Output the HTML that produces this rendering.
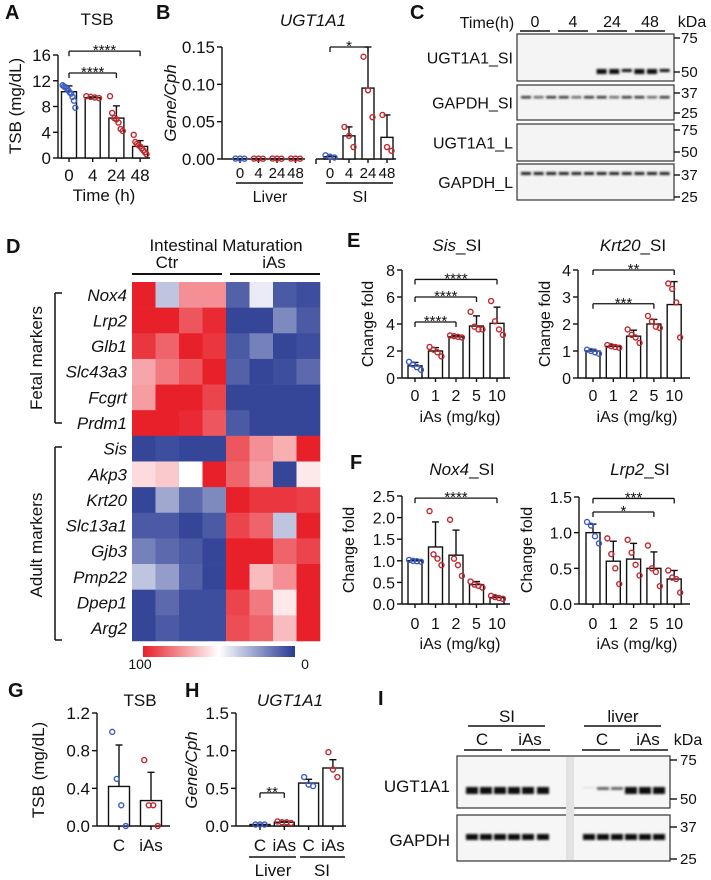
<!DOCTYPE html>
<html><head><meta charset="utf-8"><style>
body{margin:0;background:#fff}
svg{display:block;font-family:"Liberation Sans",sans-serif}
</style></head><body>
<svg id="fig" width="711" height="880" viewBox="0 0 711 880" xmlns="http://www.w3.org/2000/svg">
<defs><filter id="blur" x="-20%" y="-100%" width="140%" height="300%"><feGaussianBlur stdDeviation="1"/></filter>
<linearGradient id="cbar" x1="0" x2="1" y1="0" y2="0"><stop offset="0" stop-color="#e8202a"/><stop offset="0.5" stop-color="#ffffff"/><stop offset="1" stop-color="#283a93"/></linearGradient></defs>
</svg>
<script>
// ---------- data ----------
const aCats=["0","4","24","48"];
const aMeans=[10.3,9.35,6.2,1.8];
const aSds=[0.9,0.15,1.9,0.9];
const aPts=[[11.3,11.1,11,10.8,10.5,10.2,10,9.5,8.9,7.8],[9.6,9.5,9.4,9.3],[9.6,7,6.2,6,5.5,4.5,4.2],[3.6,2.5,2.2,2,1.8,1.5,1.2,0.9,0.6]];
const aTicks=[0,4,8,12,16];
const bCats=["0","4","24","48","0","4","24","48"];
const bMeans=[0.0005,0.0005,0.0005,0.0005,0.003,0.031,0.095,0.029];
const bSds=[0,0,0,0,0.001,0.012,0.055,0.03];
const bPts=[[0.0006,0.0005,0.0004],[0.0006,0.0005,0.0004],[0.0006,0.0005,0.0004],[0.0006,0.0005,0.0004],[0.005,0.003,0.002],[0.043,0.031,0.016],[0.137,0.092,0.056],[0.059,0.016,0.011]];
const bTicks=[0,0.05,0.10,0.15];
const doseCats=["0","1","2","5","10"];
const sisMeans=[0.9,2.0,3.05,3.85,4.05];
const sisSds=[0.25,0.25,0.1,0.75,1.2];
const sisPts=[[1.2,1.0,0.8,0.6],[2.3,2.1,1.9,1.6],[3.15,3.1,3.05,3.0],[4.9,3.8,3.6,3.6],[5.7,4.2,3.6,3.2]];
const sisTicks=[0,2,4,6,8];
const krtMeans=[1.0,1.17,1.55,2.0,2.72];
const krtSds=[0.06,0.06,0.22,0.17,0.85];
const krtPts=[[1.05,1.0,0.95,0.9],[1.22,1.18,1.15,1.12],[1.8,1.6,1.5,1.3],[2.3,2.1,1.9,1.85],[3.5,3.3,2.8,1.5]];
const krtTicks=[0,1,2,3,4];
const noxMeans=[1.0,1.32,1.13,0.45,0.15];
const noxSds=[0.02,0.58,0.58,0.07,0.04];
const noxPts=[[1.02,1.0,0.99,0.98],[2.15,1.15,1.05,0.9],[1.95,1.05,0.9,0.65],[0.52,0.45,0.42,0.38],[0.19,0.16,0.14,0.12]];
const noxTicks=[0,0.5,1.0,1.5,2.0,2.5];
const lrpMeans=[1.0,0.6,0.63,0.5,0.35];
const lrpSds=[0.12,0.28,0.22,0.23,0.12];
const lrpPts=[[1.15,1.1,0.95,0.85],[0.92,0.7,0.5,0.28],[0.9,0.72,0.55,0.4],[0.82,0.5,0.45,0.25],[0.47,0.37,0.35,0.16]];
const lrpTicks=[0,0.5,1.0,1.5];
const gCats=["C","iAs"];
const gMeans=[0.42,0.27];
const gSds=[0.44,0.3];
const gPts=[[1.0,0.5,0.22,0.0],[0.7,0.22,0.22,0.0]];
const gTicks=[0,0.4,0.8,1.2];
const hCats=["C","iAs","C","iAs"];
const hMeans=[0.02,0.05,0.57,0.77];
const hSds=[0.003,0.01,0.05,0.11];
const hPts=[[0.02,0.02,0.02],[0.06,0.05,0.05,0.04],[0.65,0.55,0.53],[0.98,0.75,0.65]];
const hTicks=[0,0.5,1.0,1.5];
const hmGenes=["Nox4","Lrp2","Glb1","Slc43a3","Fcgrt","Prdm1","Sis","Akp3","Krt20","Slc13a1","Gjb3","Pmp22","Dpep1","Arg2"];
const hmValues=[
[100,35,75,75,10,45,8,5],[100,100,88,98,3,3,20,8],[95,85,100,95,8,18,3,5],[70,80,88,100,10,3,5,12],
[72,100,100,92,3,3,3,3],[100,100,98,88,8,3,3,3],[3,5,3,3,88,75,68,100],[58,62,50,100,85,72,3,55],
[3,28,12,20,100,95,95,93],[8,8,3,8,92,85,35,100],[18,12,8,3,100,100,85,92],[35,25,10,3,100,65,75,100],
[3,12,5,5,92,80,55,100],[3,8,5,5,90,85,65,100]];

// ---------- helpers ----------
const NS="http://www.w3.org/2000/svg";
const svg=document.getElementById('fig');
function el(tag,attrs,parent,text){const e=document.createElementNS(NS,tag);for(const k in attrs)e.setAttribute(k,attrs[k]);if(text!==undefined)e.textContent=text;(parent||svg).appendChild(e);return e;}
function txt(x,y,s,opt,parent){opt=opt||{};const t=el('text',{x:x,y:y,'font-size':opt.fs||14,'text-anchor':opt.anchor||'middle','font-style':opt.it?'italic':'normal','font-weight':opt.bold?'bold':'normal',fill:'#111'},parent,s);if(opt.rot)t.setAttribute('transform','rotate(-90 '+x+' '+y+')');return t;}
function line(x1,y1,x2,y2,parent,w){return el('line',{x1:x1,y1:y1,x2:x2,y2:y2,stroke:'#111','stroke-width':w||1.4},parent);}
const BLUE='#3b5cc4',RED='#c1272d';

function barChart(name,c,cats,means,sds,pts,ticks){
  const g=el('g',{},svg);
  
  
  const y=v=>c.yBot-v/c.max*(c.yBot-c.yTop);
  const ax=line(c.ax,c.yTop,c.ax,c.yBot,g);
  
  if(c.breakAt){line(c.ax,c.yBot,c.breakAt[0],c.yBot,g);line(c.breakAt[1],c.yBot,c.axEnd,c.yBot,g);line(c.breakAt[1],c.yBot,c.breakAt[1],c.yBot+5,g);}
  else line(c.ax,c.yBot,c.axEnd,c.yBot,g);
  ticks.forEach(t=>{line(c.ax-5,y(t),c.ax,y(t),g);
    const tl=txt(c.ax-7,y(t)+6,t.toFixed(c.dec||0),{fs:c.tfs||17,anchor:'end'},g);
    
    });
  cats.forEach((cat,i)=>{
    const cx=c.xs(i),m=means[i],s=sds[i];
    line(cx,c.yBot,cx,c.yBot+4,g);
    const b=el('rect',{x:cx-c.bw/2,y:y(m),width:c.bw,height:c.yBot-y(m),fill:'#fff',stroke:'#111','stroke-width':1.4},g);
    
    
    if(s>0){line(cx,y(m),cx,y(m+s),g);line(cx-3.5,y(m+s),cx+3.5,y(m+s),g);}
    const p=pts[i],n=p.length,step=n>1?Math.min(4.5,c.bw*0.85/(n-1)):0;
    const col=c.colors(i);
    p.forEach((v,k)=>{const d=el('circle',{cx:cx+(k-(n-1)/2)*step,cy:y(v),r:2.5,fill:'none',stroke:col,'stroke-width':1.4},g);
      
      });
    const xl=txt(cx,c.xlY,cat,{fs:c.xfs||17},g);
    
    
  });
  (c.sig||[]).forEach(s=>{const yy=y(s[2]),x1=c.xs(s[0]),x2=c.xs(s[1]);
    line(x1,yy,x2,yy,g,1.3);line(x1,yy,x1,yy+5,g,1.3);line(x2,yy,x2,yy+5,g,1.3);
    const st=txt((x1+x2)/2,yy+4,s[3],{fs:15},g);
    
    });
  return g;
}
function label(x,y,s,name,opt){const t=txt(x,y,s,opt);return t;}

// ---------- panel letters ----------
[["A",5,19],["B",156,19],["C",410,19],["D",6,253],["E",347,247],["F",350,469],["G",8,697],["H",185,697],["I",378,705]].forEach(p=>{
  const t=txt(p[1],p[2],p[0],{fs:20,bold:true,anchor:'start'});
  
  });

// ---------- A ----------
barChart('panel-a-tsb',{ax:58,axEnd:150,yTop:55,yBot:158,max:16,bw:15,xlY:181,xs:i=>69+i*23.7,colors:i=>i==0?BLUE:RED,
  sig:[[0,3,16.6,"****"],[0,2,13.2,"****"]]},aCats,aMeans,aSds,aPts,aTicks);
label(97,25,"TSB","panel-a-title",{fs:17});
label(104,201,"Time (h)","panel-a-x-title",{fs:17});
label(21,106,"TSB (mg/dL)","panel-a-y-title",{fs:17,rot:true});

// ---------- B ----------
barChart('panel-b-ugt1a1',{ax:222,axEnd:396,breakAt:[305,316],yTop:47,yBot:159,max:0.15,dec:2,bw:12,xlY:178,xfs:15,
  xs:i=>i<4?240+i*18.5:330+(i-4)*19,colors:i=>i%4==0?BLUE:RED,sig:[[4,6,0.15,"*"]]},bCats,bMeans,bSds,bPts,bTicks);
label(313,26,"UGT1A1","panel-b-title",{fs:17,it:true});
label(176,103,"Gene/Cph","panel-b-y-title",{fs:17,it:true,rot:true});
line(236,183,303,183);line(326,183,393,183);
label(270,202,"Liver","group-label-liver",{fs:16});
label(360,202,"SI","group-label-si",{fs:16});

// ---------- C (western blot) ----------
(function(){
  label(487,28,"Time(h)","blot-c-time-label",{fs:16});
  [["0",535,520,550],["4",573,558,588],["24",612,597,627],["48",650,635,665]].forEach(g=>{label(g[1],27,g[0],"blot-c-time-group",{fs:16});line(g[2],31,g[3],31,null,1.6);});
  label(692,27,"kDa","blot-c-kda",{fs:16});
  const boxes=[[34,81,"UGT1A1_SI",[["75",38],["50",72]]],[85,120,"GAPDH_SI",[["37",93],["25",113]]],[124,161,"UGT1A1_L",[["75",130],["50",152]]],[164,200,"GAPDH_L",[["37",175],["25",197]]]];
  boxes.forEach((b,bi)=>{
    const r=el('rect',{x:517,y:b[0],width:157,height:b[1]-b[0],fill:'#f4f4f4',stroke:'#333','stroke-width':1.2});
    
    
    label(513,(b[0]+b[1])/2+6,b[2],"blot-c-row-label",{fs:16,anchor:'end'});
    b[3].forEach(m=>{line(674,m[1],680,m[1]);label(681,m[1]+5,m[0],"blot-c-marker",{fs:15,anchor:'start'});});
  });
  for(let i=0;i<12;i++){const x=521+i*12.6;
    if(i>=6){const b=el('rect',{x:x,y:69,width:10,height:i%3==2?3:5,fill:'#111',filter:'url(#blur)'});}
    const b2=el('rect',{x:x,y:96,width:10,height:2.5,fill:i%3==1?'#666':'#333',filter:'url(#blur)'});
    const b3=el('rect',{x:x,y:172,width:10,height:3,fill:'#222',filter:'url(#blur)'});
  }
})();

// ---------- D heatmap ----------
(function(){
  function col(v){const w=[255,255,255];let t,c;
    if(v>=50){t=(v-50)/50;c=[232,32,42];}else{t=(50-v)/50;c=[40,58,147];}
    return 'rgb('+w.map((a,i)=>Math.round(a+(c[i]-a)*t)).join(',')+')';}
  const x0=132,cw=23.5,y0=282,rh=25.64;
  label(226,251,"Intestinal Maturation","heatmap-title",{fs:17});
  label(167,268,"Ctr","heatmap-group-ctr",{fs:17});label(274,268,"iAs","heatmap-group-ias",{fs:17});
  line(132,274,222,274,null,2);line(230,274,320,274,null,2);
  hmValues.forEach((row,r)=>{
    row.forEach((v,k)=>{const c=el('rect',{x:x0+k*cw,y:y0+r*rh,width:cw+0.3,height:rh+0.3,fill:col(v)});
      
      });
    label(127,y0+r*rh+rh/2+6,hmGenes[r],"heatmap-gene-label",{fs:17,it:true,anchor:'end'});
  });
  [[293,423,"Fetal markers",358],[447,640,"Adult markers",545]].forEach(b=>{
    line(55,b[0],55,b[1],null,1.5);line(55,b[0],62,b[0],null,1.5);line(55,b[1],62,b[1],null,1.5);
    label(42,b[3],b[2],"heatmap-bracket-label",{fs:17,rot:true});});
  const cb=el('rect',{x:143,y:646,width:152,height:11,fill:'url(#cbar)'});
  
  label(140,669,"100","colorbar-max",{fs:14});label(305,669,"0","colorbar-min",{fs:14});
})();

// ---------- E ----------
const doseX1=i=>415+i*20.5, doseX2=i=>593+i*20.3;
barChart('panel-e-sis',{ax:402,axEnd:510,yTop:270,yBot:378,max:8,bw:14,tfs:16,xfs:16,xlY:401,xs:doseX1,colors:i=>i==0?BLUE:RED,
  sig:[[0,4,7.3,"****"],[0,3,6.0,"****"],[0,2,4.15,"****"]]},doseCats,sisMeans,sisSds,sisPts,sisTicks);
barChart('panel-e-krt20',{ax:578,axEnd:690,yTop:270,yBot:378,max:4,bw:14,tfs:16,xfs:16,xlY:401,xs:doseX2,colors:i=>i==0?BLUE:RED,
  sig:[[0,4,4.0,"**"],[0,3,2.75,"***"]]},doseCats,krtMeans,krtSds,krtPts,krtTicks);
(function(){const t=txt(457,251,"",{fs:17});
  el('tspan',{'font-style':'italic'},t,"Sis");el('tspan',{},t,"_SI");
  const t2=txt(633,251,"",{fs:17});
  el('tspan',{'font-style':'italic'},t2,"Krt20");el('tspan',{},t2,"_SI");})();
label(460,422,"iAs (mg/kg)","panel-e-sis-x-title",{fs:16});
label(637,422,"iAs (mg/kg)","panel-e-krt20-x-title",{fs:16});
label(373,324,"Change fold","panel-e-sis-y-title",{fs:16,rot:true});
label(550,324,"Change fold","panel-e-krt20-y-title",{fs:16,rot:true});

// ---------- F ----------
barChart('panel-f-nox4',{ax:402,axEnd:510,yTop:496,yBot:604,max:2.5,dec:1,bw:14,tfs:16,xfs:16,xlY:629,xs:doseX1,colors:i=>i==0?BLUE:RED,
  sig:[[0,4,2.45,"****"]]},doseCats,noxMeans,noxSds,noxPts,noxTicks);
barChart('panel-f-lrp2',{ax:579,axEnd:690,yTop:497,yBot:604,max:1.5,dec:1,bw:14,tfs:16,xfs:16,xlY:629,xs:doseX2,colors:i=>i==0?BLUE:RED,
  sig:[[0,4,1.48,"***"],[0,3,1.29,"*"]]},doseCats,lrpMeans,lrpSds,lrpPts,lrpTicks);
(function(){const t=txt(462,475,"",{fs:17});
  el('tspan',{'font-style':'italic'},t,"Nox4");el('tspan',{},t,"_SI");
  const t2=txt(640,475,"",{fs:17});
  el('tspan',{'font-style':'italic'},t2,"Lrp2");el('tspan',{},t2,"_SI");})();
label(460,649,"iAs (mg/kg)","panel-f-nox4-x-title",{fs:16});
label(637,649,"iAs (mg/kg)","panel-f-lrp2-x-title",{fs:16});
label(354,550,"Change fold","panel-f-nox4-y-title",{fs:16,rot:true});
label(532,550,"Change fold","panel-f-lrp2-y-title",{fs:16,rot:true});

// ---------- G ----------
barChart('panel-g-tsb',{ax:97,axEnd:170,yTop:713,yBot:826,max:1.2,dec:1,bw:21,xlY:851,xs:i=>119+i*32,colors:i=>i==0?BLUE:RED},gCats,gMeans,gSds,gPts,gTicks);
label(140,706,"TSB","panel-g-title",{fs:17});
label(44,770,"TSB (mg/dL)","panel-g-y-title",{fs:17,rot:true});

// ---------- H ----------
barChart('panel-h-ugt1a1',{ax:236,axEnd:346,yTop:713,yBot:826,max:1.5,dec:1,bw:20,xlY:851,xs:i=>260+i*24.3,colors:i=>i%2==0?BLUE:RED,
  sig:[[0,1,0.44,"**"]]},hCats,hMeans,hSds,hPts,hTicks);
label(290,706,"UGT1A1","panel-h-title",{fs:17,it:true});
label(197,770,"Gene/Cph","panel-h-y-title",{fs:17,it:true,rot:true});
line(249,857,296,857);line(300,857,345,857);
label(273,876,"Liver","panel-h-group-liver",{fs:17});label(322,876,"SI","panel-h-group-si",{fs:17});

// ---------- I (western blot) ----------
(function(){
  label(507,722,"SI","blot-i-si",{fs:17});line(468,726,545,726);
  label(623,722,"liver","blot-i-liver",{fs:17});line(584,726,661,726);
  [["C",482,464,502],["iAs",530,511,550],["C",602,582,620],["iAs",648,630,668]].forEach(g=>{label(g[1],745,g[0],"blot-i-group",{fs:17});line(g[2],750,g[3],750);});
  label(688,745,"kDa","blot-i-kda",{fs:16});
  [[756,808,"UGT1A1",786],[815,861,"GAPDH",840]].forEach(b=>{
    const r=el('rect',{x:457,y:b[0],width:213,height:b[1]-b[0],fill:'#f6f6f6',stroke:'#333','stroke-width':1.2});
    
    label(450,b[3]+6,b[2],"blot-i-row-label",{fs:17,anchor:'end'});});
  [["75",760],["50",799],["37",827],["25",859]].forEach(m=>{line(670,m[1],677,m[1]);label(680,m[1]+5,m[0],"blot-i-marker",{fs:15,anchor:'start'});});
  const ladder=el('rect',{x:566,y:757,width:8,height:103,fill:'#e2e2e2'});
  const lanes=[466,480,494,508,522,537,583,597,611,625,639,653];
  lanes.forEach((x,i)=>{
    const liverC=(i===6||i===7||i===8);
    const u=el('rect',{x:x,y:787,width:12,height:liverC?(i==6?1.5:3):7,fill:liverC?(i==6?'#ddd':'#666'):'#111',filter:'url(#blur)'});
    
    const gb=el('rect',{x:x,y:834,width:12,height:6,fill:'#111',filter:'url(#blur)'});
    
  });
})();
</script>
</body></html>
